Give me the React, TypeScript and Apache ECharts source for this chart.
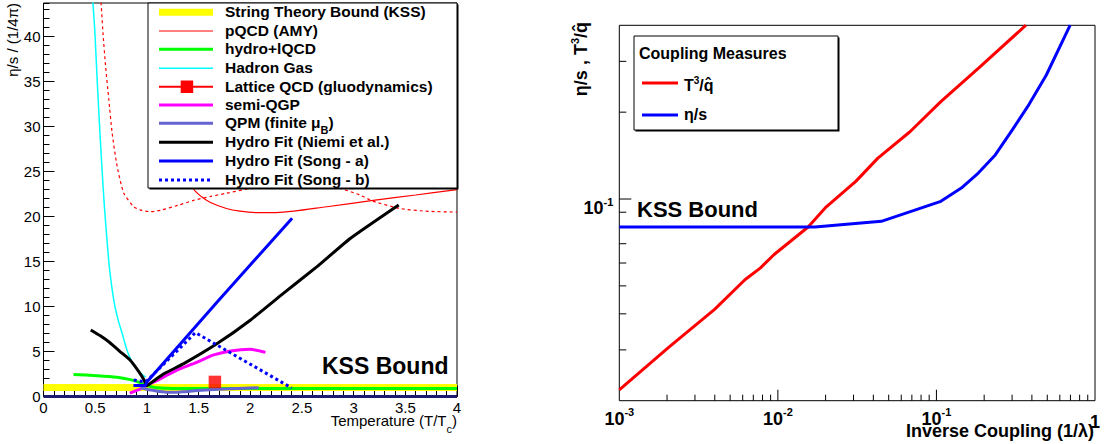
import React, { useEffect, useRef } from 'react';
import * as echarts from 'echarts';

const FONT = "'Liberation Sans', Arial, Helvetica, sans-serif";

// ---------- Left panel: eta/s / (1/4pi) versus T/Tc ----------
const KSS_BOUND = [[0, 1], [4, 1]];
const ZERO_LINE = [[0, 0], [4, 0]];
const PQCD_AMY = [[1.3, 28.5], [1.36, 25.6], [1.45, 23.1], [1.53, 22.2], [1.61, 21.6], [1.77, 20.9], [1.9, 20.6], [2.05, 20.45], [2.25, 20.45], [2.42, 20.6], [2.74, 21.1], [3.19, 21.8], [3.6, 22.4], [4.0, 23.0]];
const PQCD_AMY_ALT = [[0.553, 44.5], [0.575, 40.5], [0.6, 36.8], [0.632, 33.0], [0.664, 29.3], [0.712, 25.6], [0.777, 22.6], [0.873, 21.1], [0.95, 20.7], [1.035, 20.55], [1.13, 20.7], [1.3, 21.25], [1.45, 21.8], [1.62, 22.25], [1.77, 22.6], [1.98, 23.1], [2.3, 23.8], [2.6, 23.8], [2.88, 23.1], [3.06, 22.4], [3.19, 21.7], [3.45, 20.9], [3.7, 20.6], [4.0, 20.5]];
const HYDRO_LQCD = [[0.29, 2.45], [0.52, 2.32], [0.71, 2.15], [0.84, 1.88], [0.92, 1.6], [0.97, 1.34], [1.04, 1.1], [1.1, 0.98], [1.2, 0.92], [1.33, 0.88], [2.0, 0.88], [3.0, 0.88], [4.0, 0.88]];
const HADRON_GAS = [[0.468, 46], [0.477, 44], [0.497, 40.5], [0.52, 35], [0.546, 29.3], [0.565, 25.5], [0.585, 21.8], [0.61, 18], [0.637, 14.4], [0.68, 10.7], [0.72, 8.6], [0.761, 7.0], [0.809, 5.1], [0.85, 4.0], [0.89, 3.27], [0.94, 2.6], [0.986, 2.15]];
const LATTICE_QCD = [[1.658, 1.62]];
const SEMI_QGP = [[0.835, 0.37], [0.938, 0.86], [1.0, 1.25], [1.1, 1.79], [1.2, 2.4], [1.325, 3.09], [1.486, 3.83], [1.647, 4.62], [1.81, 5.06], [2.0, 5.24], [2.147, 4.91]];
const QPM = [[0.938, 0.97], [1.0, 0.8], [1.067, 0.67], [1.15, 0.52], [1.228, 0.46], [1.35, 0.52], [1.486, 0.67], [1.81, 0.86], [2.08, 0.97]];
const NIEMI = [[0.457, 7.4], [0.55, 6.75], [0.643, 5.98], [0.74, 5.0], [0.837, 4.06], [0.92, 2.8], [0.97, 1.9], [1.0, 1.2], [1.05, 1.6], [1.16, 2.5], [1.357, 3.65], [1.68, 5.88], [2.0, 8.48], [2.32, 11.46], [2.646, 14.44], [2.97, 17.6], [3.436, 21.3]];
const SONG_A = [[0.87, 1.23], [0.986, 1.23], [1.0, 1.6], [1.68, 10.5], [2.405, 19.83]];
const SONG_B = [[0.873, 1.83], [0.97, 1.65], [1.0, 1.75], [1.47, 7.1], [2.4, 0.95]];

// legend labels; "|" marks a subscript
const LEFT_LEGEND_LABELS = [
  'String Theory Bound (KSS)',
  'pQCD (AMY)',
  'hydro+lQCD',
  'Hadron Gas',
  'Lattice QCD (gluodynamics)',
  'semi-QGP',
  'QPM (finite μ|B|)',
  'Hydro Fit (Niemi et al.)',
  'Hydro Fit (Song - a)',
  'Hydro Fit (Song - b)',
];

// ---------- Right panel: coupling measures versus inverse coupling ----------
const RED_T3_QHAT = [[0.001, 0.02182], [0.002047, 0.03063], [0.00399, 0.04143], [0.006223, 0.05262], [0.007776, 0.05774], [0.009471, 0.06421], [0.01552, 0.08], [0.01987, 0.0931], [0.031, 0.1151], [0.04274, 0.1386], [0.06836, 0.1714], [0.1066, 0.2176], [0.1836, 0.2836], [0.3667, 0.4004]];
const BLUE_ETA_S = [[0.001, 0.08], [0.01714, 0.08], [0.04491, 0.0837], [0.1066, 0.09815], [0.1435, 0.1091], [0.1836, 0.123], [0.235, 0.1422], [0.301, 0.1736], [0.3759, 0.209], [0.4933, 0.269], [0.6972, 0.4004]];
const R_X_MIN = 0.001;
const R_X_MAX = 1;
const R_Y_MIN = 0.02;
const R_Y_MAX = 0.4;
const R_X_MAJOR_TICKS = [0.01, 0.1];
const R_X_MINOR_TICKS = [0.002, 0.003, 0.004, 0.005, 0.006, 0.007, 0.008, 0.009, 0.02, 0.03, 0.04, 0.05, 0.06, 0.07, 0.08, 0.09, 0.2, 0.3, 0.4, 0.5, 0.6, 0.7, 0.8, 0.9];
const R_Y_MAJOR_TICKS = [0.1];
const R_Y_MINOR_TICKS = [0.03, 0.04, 0.05, 0.06, 0.07, 0.08, 0.09, 0.2, 0.3];

const C_YELLOW = '#ffff00';
const C_RED = '#ff0000';
const C_GREEN = '#00ff00';
const C_CYAN = '#00ffff';
const C_MAGENTA = '#ff00ff';
const C_QPM = '#6464d2';
const C_BLUE = '#0000ff';
const C_NAVY = '#1c1c6e';

function line(name: string, data: number[][], color: string, width: number, extra: any = {}) {
  return {
    type: 'line',
    name,
    data,
    xAxisIndex: 0,
    yAxisIndex: 0,
    symbol: 'none',
    showSymbol: false,
    silent: true,
    clip: true,
    smooth: extra.smooth ?? false,
    lineStyle: { color, width, type: extra.dash ?? 'solid', cap: 'butt' },
    z: 2,
  };
}

function tokenStyle(size: number, bold: boolean, extra: any = {}) {
  return { fontSize: size, fontWeight: bold ? 'bold' : 'normal', fontFamily: FONT, fill: '#000', color: '#000', ...extra };
}

function legendRich(label: string) {
  const parts = label.split('|');
  let text = '{a|' + parts[0] + '}';
  if (parts.length > 1) text += '{sub|' + parts[1] + '}{a|' + parts[2] + '}';
  return text;
}

function buildGraphic() {
  const els: any[] = [];
  // left legend box
  els.push({ type: 'rect', z: 98, silent: true, shape: { x: 149.5, y: 4.5, width: 309, height: 185 }, style: { fill: '#000' } });
  els.push({ type: 'rect', z: 99, silent: true, shape: { x: 148, y: 3, width: 309, height: 185 }, style: { fill: '#fff', stroke: '#000', lineWidth: 1 } });
  const rows = [12.3, 31, 49.3, 68.3, 86.7, 105, 123.3, 142.3, 161, 180];
  const sty = [
    { c: C_YELLOW, w: 7 },
    { c: C_RED, w: 1 },
    { c: C_GREEN, w: 3 },
    { c: C_CYAN, w: 1.5 },
    { c: C_RED, w: 2 },
    { c: C_MAGENTA, w: 3 },
    { c: C_QPM, w: 3 },
    { c: '#000', w: 3 },
    { c: C_BLUE, w: 3 },
    { c: C_BLUE, w: 3, d: [3, 3] },
  ];
  rows.forEach((y, i) => {
    const s = sty[i];
    els.push({ type: 'line', z: 100, silent: true, shape: { x1: 159, y1: y, x2: 213, y2: y }, style: { stroke: s.c, lineWidth: s.w, lineDash: s.d || null } });
    if (i === 4) {
      els.push({ type: 'rect', z: 101, silent: true, shape: { x: 180.7, y: y - 6.2, width: 12.5, height: 12.5 }, style: { fill: C_RED } });
    }
    els.push({
      type: 'text', z: 100, silent: true, x: 225, y: y - 0.5,
      style: {
        text: legendRich(LEFT_LEGEND_LABELS[i]),
        textAlign: 'left', textVerticalAlign: 'middle', verticalAlign: 'middle',
        rich: { a: tokenStyle(15.5, true, { lineHeight: 26 }), sub: tokenStyle(11, true, { lineHeight: 11, verticalAlign: 'bottom' }) },
      },
    });
  });
  // left KSS Bound text
  els.push({ type: 'text', z: 100, silent: true, x: 322, y: 366, style: { text: 'KSS Bound', fontSize: 23, fontWeight: 'bold', fontFamily: FONT, fill: '#000', textAlign: 'left', textVerticalAlign: 'middle', verticalAlign: 'middle' } });
  // left axis titles
  els.push({
    type: 'text', z: 100, silent: true, x: 457, y: 420,
    style: {
      text: '{a|Temperature (T/T}{s|c}{a|)}', textAlign: 'right', textVerticalAlign: 'middle', verticalAlign: 'middle',
      rich: { a: tokenStyle(15, false, { lineHeight: 28 }), s: tokenStyle(11, false, { lineHeight: 11, verticalAlign: 'bottom' }) },
    },
  });
  els.push({
    type: 'text', z: 100, silent: true, x: 12.5, y: 3, rotation: Math.PI / 2,
    style: { text: 'η/s / (1/4π)', fontSize: 15, fontFamily: FONT, fill: '#000', textAlign: 'right', textVerticalAlign: 'middle', verticalAlign: 'middle' },
  });

  // right legend box
  els.push({ type: 'rect', z: 98, silent: true, shape: { x: 635.5, y: 37.5, width: 204, height: 94 }, style: { fill: '#000' } });
  els.push({ type: 'rect', z: 99, silent: true, shape: { x: 634, y: 36, width: 204, height: 94 }, style: { fill: '#fff', stroke: '#000', lineWidth: 1 } });
  els.push({ type: 'text', z: 100, silent: true, x: 639, y: 53, style: { text: 'Coupling Measures', fontSize: 16, fontWeight: 'bold', fontFamily: FONT, fill: '#000', textAlign: 'left', textVerticalAlign: 'middle', verticalAlign: 'middle' } });
  els.push({ type: 'line', z: 100, silent: true, shape: { x1: 642, y1: 83, x2: 678, y2: 83 }, style: { stroke: C_RED, lineWidth: 3 } });
  els.push({ type: 'line', z: 100, silent: true, shape: { x1: 642, y1: 115, x2: 678, y2: 115 }, style: { stroke: C_BLUE, lineWidth: 3 } });
  els.push({
    type: 'text', z: 100, silent: true, x: 684, y: 85,
    style: {
      text: '{a|T}{s|3}{a|/q\u0302}', textAlign: 'left', textVerticalAlign: 'middle', verticalAlign: 'middle',
      rich: { a: tokenStyle(16, true, { lineHeight: 20 }), s: tokenStyle(10, true, { lineHeight: 10, verticalAlign: 'top' }) },
    },
  });
  els.push({ type: 'text', z: 100, silent: true, x: 684, y: 114, style: { text: 'η/s', fontSize: 16, fontWeight: 'bold', fontFamily: FONT, fill: '#000', textAlign: 'left', textVerticalAlign: 'middle', verticalAlign: 'middle' } });
  // right KSS Bound
  els.push({ type: 'text', z: 100, silent: true, x: 637, y: 209, style: { text: 'KSS Bound', fontSize: 22, fontWeight: 'bold', fontFamily: FONT, fill: '#000', textAlign: 'left', textVerticalAlign: 'middle', verticalAlign: 'middle' } });
  // right axis titles
  els.push({ type: 'text', z: 100, silent: true, x: 1094, y: 431, style: { text: 'Inverse Coupling (1/λ)', fontSize: 18, fontWeight: 'bold', fontFamily: FONT, fill: '#000', textAlign: 'right', textVerticalAlign: 'middle', verticalAlign: 'middle' } });
  els.push({
    type: 'text', z: 100, silent: true, x: 580.5, y: 22, rotation: Math.PI / 2,
    style: {
      text: '{a|η/s , T}{s|3}{a|/q\u0302}', textAlign: 'right', textVerticalAlign: 'middle', verticalAlign: 'middle',
      rich: { a: tokenStyle(18, true, { lineHeight: 22 }), s: tokenStyle(11, true, { lineHeight: 11, verticalAlign: 'top' }) },
    },
  });
  return els;
}

function logLabel(v: number) {
  const l = Math.log10(v);
  const e = Math.round(l);
  if (Math.abs(l - e) > 1e-6) return '';
  if (e === 0) return '{one|1}';
  return '{b|10}{s|' + e + '}';
}

const logRich = {
  b: { fontSize: 18, fontWeight: 'bold', fontFamily: FONT, color: '#000', lineHeight: 24 },
  s: { fontSize: 11, fontWeight: 'bold', fontFamily: FONT, color: '#000', lineHeight: 11, verticalAlign: 'top' },
  one: { fontSize: 18, fontWeight: 'bold', fontFamily: FONT, color: '#000', lineHeight: 24, padding: [7, 0, 0, 0] },
};

function tickRender(vertical: boolean) {
  return (params: any, api: any) => {
    const p = api.coord([api.value(0), api.value(1)]);
    const len = api.value(2);
    const shape = vertical
      ? { x1: p[0], y1: p[1], x2: p[0], y2: p[1] - len }
      : { x1: p[0], y1: p[1], x2: p[0] + len, y2: p[1] };
    return { type: 'line', shape, style: { stroke: '#000', lineWidth: 1 } };
  };
}

function buildOption() {
  const axisBase = { axisLine: { show: false, onZero: false }, splitLine: { show: false } };
  return {
    animation: false,
    backgroundColor: '#fff',
    grid: [
      { left: 43.5, top: 3, width: 413.5, height: 393.5, show: true, borderColor: '#000', borderWidth: 1, backgroundColor: 'transparent', containLabel: false },
      { left: 619.3, top: 25.3, width: 475.7, height: 375.4, show: true, borderColor: '#000', borderWidth: 1, backgroundColor: 'transparent', containLabel: false },
    ],
    xAxis: [
      { ...axisBase, gridIndex: 0, type: 'value', position: 'bottom', min: 0, max: 4, interval: 0.5,
        axisTick: { show: true, inside: true, length: 11, lineStyle: { color: '#000', width: 1 } },
        axisLabel: { margin: 3, fontSize: 15, color: '#000', fontFamily: FONT } },
      { ...axisBase, gridIndex: 0, type: 'value', position: 'bottom', min: 0, max: 4, interval: 0.1,
        axisTick: { show: true, inside: true, length: 6, lineStyle: { color: '#000', width: 1 } },
        axisLabel: { show: false } },
      { ...axisBase, gridIndex: 1, type: 'log', logBase: 10, position: 'bottom', min: R_X_MIN, max: R_X_MAX,
        axisTick: { show: false }, minorTick: { show: false },
        axisLabel: { margin: 6, formatter: logLabel, rich: logRich, showMinLabel: true, showMaxLabel: true } },
    ],
    yAxis: [
      { ...axisBase, gridIndex: 0, type: 'value', position: 'left', min: 0, max: 43.75, interval: 5,
        axisTick: { show: true, inside: true, length: 11, lineStyle: { color: '#000', width: 1 } },
        axisLabel: { margin: 3, fontSize: 15, color: '#000', fontFamily: FONT, showMaxLabel: false,
          formatter: (v: number) => (Math.abs(v / 5 - Math.round(v / 5)) < 1e-6 ? String(v) : '') } },
      { ...axisBase, gridIndex: 0, type: 'value', position: 'left', min: 0, max: 43.75, interval: 1,
        axisTick: { show: true, inside: true, length: 6, lineStyle: { color: '#000', width: 1 } },
        axisLabel: { show: false } },
      { ...axisBase, gridIndex: 1, type: 'log', logBase: 10, position: 'left', min: R_Y_MIN, max: R_Y_MAX,
        axisTick: { show: false }, minorTick: { show: false },
        axisLabel: { margin: 6, formatter: logLabel, rich: logRich, padding: [18, 0, 0, 0], showMinLabel: true, showMaxLabel: true } },
    ],
    series: [
      line('KSS Bound', KSS_BOUND, C_YELLOW, 7),
      line('Zero', ZERO_LINE, C_NAVY, 3),
      line('pQCD (AMY)', PQCD_AMY, C_RED, 1.2, { smooth: 0.3 }),
      line('pQCD (AMY) alt', PQCD_AMY_ALT, C_RED, 1.2, { smooth: 0.2, dash: [3, 3] }),
      line('Hadron Gas', HADRON_GAS, C_CYAN, 1.5, { smooth: 0.3 }),
      line('hydro+lQCD', HYDRO_LQCD, C_GREEN, 3, { smooth: 0.2 }),
      line('semi-QGP', SEMI_QGP, C_MAGENTA, 3, { smooth: 0.2 }),
      line('QPM', QPM, C_QPM, 3, { smooth: 0.2 }),
      line('Hydro Fit (Niemi et al.)', NIEMI, '#000', 3, { smooth: 0.15 }),
      line('Hydro Fit (Song - a)', SONG_A, C_BLUE, 3),
      line('Hydro Fit (Song - b)', SONG_B, C_BLUE, 3, { dash: [3, 3] }),
      { type: 'scatter', name: 'Lattice QCD', data: LATTICE_QCD, xAxisIndex: 0, yAxisIndex: 0, symbol: 'rect', symbolSize: 12.5, itemStyle: { color: C_RED }, silent: true, z: 3 },
      { type: 'line', name: 'T3/qhat', data: RED_T3_QHAT, xAxisIndex: 2, yAxisIndex: 2, symbol: 'none', showSymbol: false, silent: true, clip: true, lineStyle: { color: C_RED, width: 3 } },
      { type: 'line', name: 'eta/s', data: BLUE_ETA_S, xAxisIndex: 2, yAxisIndex: 2, symbol: 'none', showSymbol: false, silent: true, clip: true, lineStyle: { color: C_BLUE, width: 3 } },
      { type: 'custom', name: 'xticks', xAxisIndex: 2, yAxisIndex: 2, silent: true, clip: false, encode: { x: 0, y: 1 },
        data: [...R_X_MAJOR_TICKS.map((v) => [v, R_Y_MIN, 11]), ...R_X_MINOR_TICKS.map((v) => [v, R_Y_MIN, 6])],
        renderItem: tickRender(true) },
      { type: 'custom', name: 'yticks', xAxisIndex: 2, yAxisIndex: 2, silent: true, clip: false, encode: { x: 0, y: 1 },
        data: [...R_Y_MAJOR_TICKS.map((v) => [R_X_MIN, v, 12]), ...R_Y_MINOR_TICKS.map((v) => [R_X_MIN, v, 7])],
        renderItem: tickRender(false) },
    ],
    graphic: { elements: buildGraphic() },
  };
}

export default function App() {
  const ref = useRef<HTMLDivElement>(null);
  useEffect(() => {
    if (!ref.current) return;
    const chart = echarts.init(ref.current, null, { renderer: 'svg', width: 1104, height: 444 });
    chart.setOption(buildOption() as any);
    return () => chart.dispose();
  }, []);
  return <div ref={ref} style={{ position: 'fixed', left: 0, top: 0, width: 1104, height: 444, background: '#fff' }} />;
}
